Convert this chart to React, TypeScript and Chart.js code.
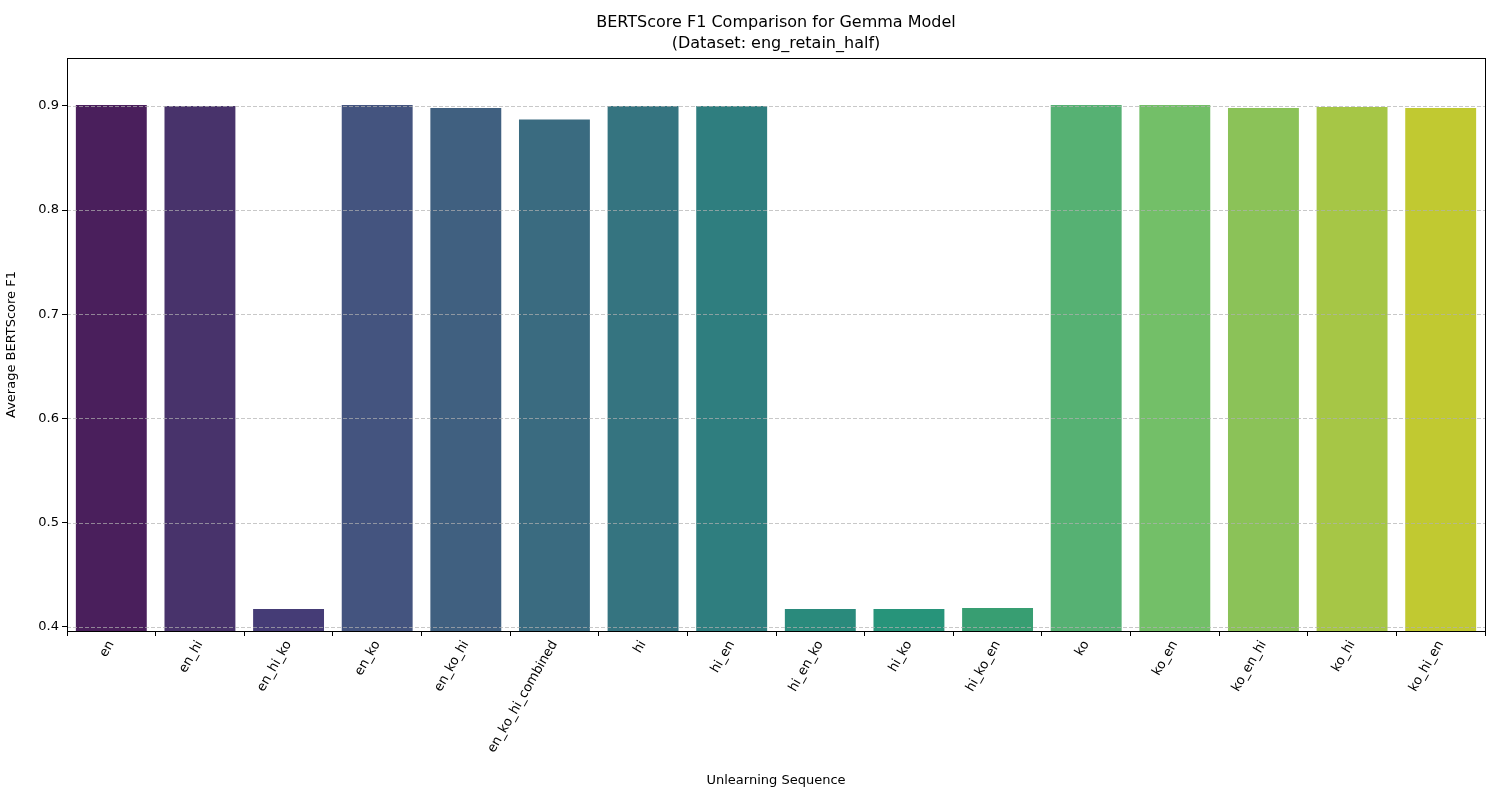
import { useEffect, useRef } from 'react';
import Chart from 'chart.js/auto';

const sequences = ['en', 'en_hi', 'en_hi_ko', 'en_ko', 'en_ko_hi', 'en_ko_hi_combined', 'hi', 'hi_en', 'hi_en_ko', 'hi_ko', 'hi_ko_en', 'ko', 'ko_en', 'ko_en_hi', 'ko_hi', 'ko_hi_en'];
const f1Scores = [0.901, 0.900, 0.417, 0.901, 0.898, 0.887, 0.900, 0.900, 0.417, 0.417, 0.418, 0.901, 0.901, 0.898, 0.899, 0.898];
const barColors = ['#4a1f5c', '#48336b', '#453c76', '#44547f', '#406080', '#3a6b80', '#357480', '#2f7e7f', '#2a8a7c', '#27947a', '#389e72', '#56b173', '#73bf68', '#8bc258', '#a6c646', '#c1c931'];
const yTicks = [0.4, 0.5, 0.6, 0.7, 0.8, 0.9];

const FONT = 'DejaVu Sans';

const overlay = {
  id: 'overlay',
  afterDatasetsDraw(chart: any) {
    const { ctx, chartArea: a, scales } = chart;
    ctx.save();
    ctx.strokeStyle = 'rgba(176,176,176,0.7)';
    ctx.lineWidth = 1;
    ctx.setLineDash([4, 2]);
    yTicks.forEach((t) => {
      const y = Math.round(scales.y.getPixelForValue(t)) + 0.5;
      ctx.beginPath();
      ctx.moveTo(a.left, y);
      ctx.lineTo(a.right, y);
      ctx.stroke();
    });
    ctx.setLineDash([]);
    ctx.strokeStyle = '#000';
    ctx.strokeRect(a.left + 0.5, a.top + 0.5, a.right - a.left, a.bottom - a.top);
    ctx.fillStyle = '#000';
    ctx.textAlign = 'center';
    ctx.textBaseline = 'middle';
    ctx.font = `16px ${FONT}`;
    const cx = (a.left + a.right) / 2;
    ctx.fillText('BERTScore F1 Comparison for Gemma Model', cx, 23);
    ctx.fillText('(Dataset: eng_retain_half)', cx, 44);
    ctx.restore();
  },
};

export default function App() {
  const canvasRef = useRef<HTMLCanvasElement>(null);

  useEffect(() => {
    document.body.style.margin = '0';
    if (!canvasRef.current) return;
    const chart = new Chart(canvasRef.current, {
      type: 'bar',
      data: {
        labels: sequences,
        datasets: [{ data: f1Scores, backgroundColor: barColors, categoryPercentage: 0.8, barPercentage: 1 }],
      },
      options: {
        responsive: false,
        animation: false,
        layout: { padding: { top: 58, right: 15, left: 0, bottom: 12 } },
        plugins: { legend: { display: false }, tooltip: { enabled: false } },
        scales: {
          x: {
            grid: { drawOnChartArea: false, color: '#000', tickLength: 5 },
            border: { color: '#000' },
            ticks: { color: '#000', font: { family: FONT, size: 13 }, minRotation: 60, maxRotation: 60, padding: 2 },
            title: { display: true, text: 'Unlearning Sequence', color: '#000', font: { family: FONT, size: 13 }, padding: 0 },
            afterFit: (s: any) => { s.height = 157; },
          },
          y: {
            min: 0.396,
            max: 0.946,
            grid: { drawOnChartArea: false, color: '#000', tickLength: 5 },
            border: { color: '#000' },
            afterBuildTicks: (s: any) => { s.ticks = yTicks.map((v) => ({ value: v })); },
            ticks: { color: '#000', font: { family: FONT, size: 13 }, callback: (v: any) => Number(v).toFixed(1), padding: 3 },
            title: { display: true, text: 'Average BERTScore F1', color: '#000', font: { family: FONT, size: 13 }, padding: 4 },
            afterFit: (s: any) => { s.width = 67; },
          },
        },
      },
      plugins: [overlay],
    });
    return () => chart.destroy();
  }, []);

  return <canvas ref={canvasRef} width={1500} height={800} style={{ display: 'block', background: '#fff' }} />;
}
